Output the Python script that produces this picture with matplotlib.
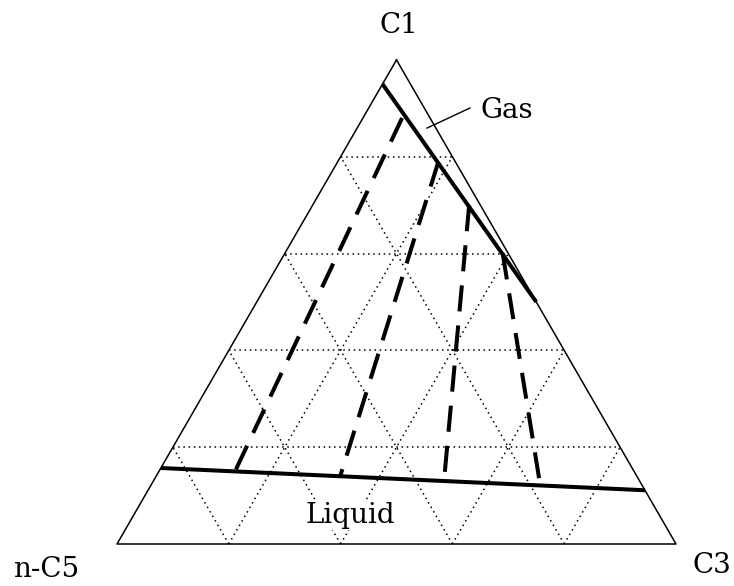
import matplotlib
matplotlib.use("Agg")
import matplotlib.pyplot as plt
import numpy as np

# compositions as mole fractions (C1, C3); n-C5 is the remainder
gas_c1 = [0.95, 0.50]
gas_c3 = [0.00, 0.50]
liq_c1 = [0.157, 0.111]
liq_c3 = [0.000, 0.889]

tie_gas_c1 = [0.88, 0.79, 0.70, 0.60]
tie_gas_c3 = [0.07, 0.18, 0.28, 0.39]
tie_liq_c1 = [0.151, 0.141, 0.130, 0.122]
tie_liq_c3 = [0.136, 0.329, 0.520, 0.696]

corner_labels = ["C1", "n-C5", "C3"]
n_div = 5

H = np.sqrt(3) / 2


def tern(c1, c3):
    c1 = np.asarray(c1, dtype=float)
    c3 = np.asarray(c3, dtype=float)
    return c3 + c1 / 2, c1 * H


fig = plt.figure(figsize=(7.34, 5.86), dpi=100)
ax = fig.add_axes([0, 0, 1, 1])
ax.set_xlim(-117 / 559, 617 / 559)
ax.set_ylim(-42 / 559, 544 / 559)
ax.axis("off")

font = dict(family="DejaVu Serif", fontsize=20, color="black")

# dotted grid lines parallel to each side
dot = dict(color="black", lw=1.1, linestyle=(0, (1, 2.4)))
for i in range(1, n_div):
    f = i / n_div
    x, y = tern([f, f], [0, 1 - f])
    ax.plot(x, y, **dot)
    x, y = tern([0, 1 - f], [f, f])
    ax.plot(x, y, **dot)
    x, y = tern([0, 1 - f], [1 - f, 0])
    ax.plot(x, y, **dot)

# triangle outline
x, y = tern([1, 0, 0, 1], [0, 0, 1, 0])
ax.plot(x, y, color="black", lw=1.1)

# dew point (gas) and bubble point (liquid) curves
x, y = tern(gas_c1, gas_c3)
ax.plot(x, y, color="black", lw=2.9, solid_capstyle="butt")
x, y = tern(liq_c1, liq_c3)
ax.plot(x, y, color="black", lw=2.9, solid_capstyle="butt")

# tie lines
for g1, g3, l1, l3 in zip(tie_gas_c1, tie_gas_c3, tie_liq_c1, tie_liq_c3):
    x, y = tern([g1, l1], [g3, l3])
    ax.plot(x, y, color="black", lw=2.9, linestyle=(0, (6.5, 3.5)),
            dash_capstyle="butt")

# labels
ax.text(0.5045, 0.914, corner_labels[0], ha="center", va="baseline", **font)
ax.text(-0.186, -0.059, corner_labels[1], ha="left", va="baseline", **font)
ax.text(1.030, -0.052, corner_labels[2], ha="left", va="baseline", **font)
ax.text(0.338, 0.0376, "Liquid", ha="left", va="baseline", zorder=5,
        bbox=dict(facecolor="white", edgecolor="none", pad=1), **font)
ax.text(0.650, 0.762, "Gas", ha="left", va="baseline", **font)
ax.plot([0.5546, 0.6315], [0.744, 0.780], color="black", lw=1.0)

fig.savefig("out.png", dpi=100)
